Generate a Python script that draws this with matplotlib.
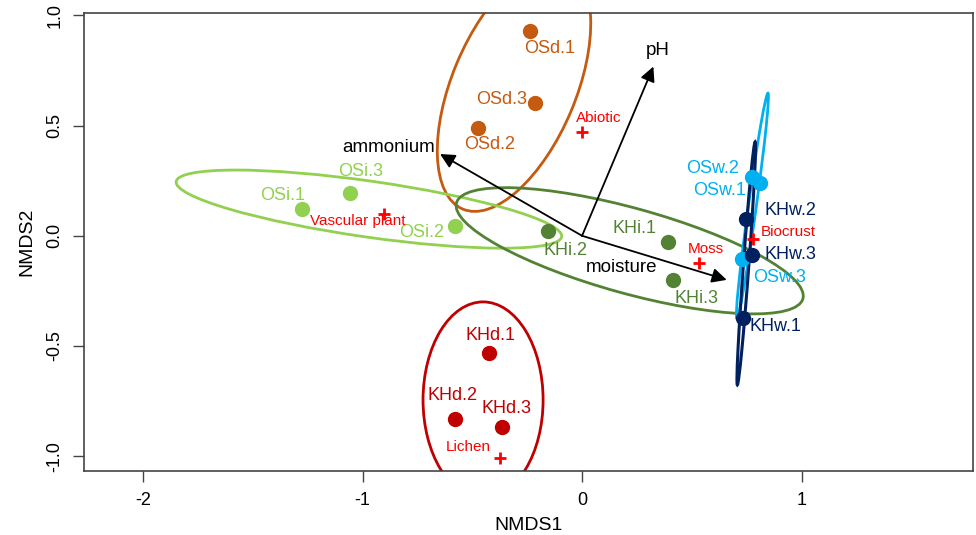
import numpy as np
import matplotlib
matplotlib.use("Agg")
import matplotlib.pyplot as plt
from matplotlib.patches import Ellipse

plt.rcParams['font.family'] = ['Liberation Sans', 'DejaVu Sans']

# ---- sample scores (NMDS1, NMDS2) ----
sites = ["OSd.1", "OSd.2", "OSd.3", "OSi.1", "OSi.2", "OSi.3",
         "KHi.1", "KHi.2", "KHi.3", "OSw.1", "OSw.2", "OSw.3",
         "KHw.1", "KHw.2", "KHw.3", "KHd.1", "KHd.2", "KHd.3"]
site_x = [-0.237, -0.475, -0.214, -1.276, -0.579, -1.057,
          0.390, -0.156, 0.416, 0.811, 0.773, 0.727,
          0.735, 0.747, 0.773, -0.422, -0.577, -0.363]
site_y = [0.928, 0.491, 0.604, 0.123, 0.046, 0.194,
          -0.027, 0.022, -0.200, 0.241, 0.265, -0.105,
          -0.375, 0.076, -0.087, -0.533, -0.832, -0.869]
site_group = ["OSd", "OSd", "OSd", "OSi", "OSi", "OSi",
              "KHi", "KHi", "KHi", "OSw", "OSw", "OSw",
              "KHw", "KHw", "KHw", "KHd", "KHd", "KHd"]
label_x = [-0.149, -0.419, -0.366, -1.362, -0.729, -1.007,
           0.241, -0.077, 0.523, 0.626, 0.595, 0.899,
           0.879, 0.951, 0.948, -0.415, -0.589, -0.346]
label_y = [0.851, 0.415, 0.620, 0.185, 0.017, 0.294,
           0.034, -0.068, -0.284, 0.205, 0.306, -0.188,
           -0.413, 0.117, -0.084, -0.453, -0.723, -0.783]

# ---- group colours and ellipses ----
groups = ["OSd", "OSi", "KHi", "KHd", "OSw", "KHw"]
group_colors = ["#C55A11", "#92D050", "#548235", "#C00000", "#00B0F0", "#002060"]
ell_cx = [-0.310, -0.971, 0.217, -0.451, 0.776, 0.748]
ell_cy = [0.675, 0.121, -0.068, -0.745, 0.136, -0.125]
ell_w = [1.202, 1.774, 1.637, 0.547, 1.032, 1.106]
ell_h = [0.564, 0.254, 0.387, 0.890, 0.036, 0.025]
ell_angle = [67.1, -8.1, -15.4, 0.0, 82.1, 85.8]

# ---- vegetation-type centroids ----
veg = ["Abiotic", "Vascular plant", "Moss", "Biocrust", "Lichen"]
veg_x = [0.000, -0.902, 0.532, 0.778, -0.374]
veg_y = [0.473, 0.099, -0.122, -0.016, -1.010]
veg_lx = [0.074, -1.020, 0.565, 0.940, -0.518]
veg_ly = [0.533, 0.067, -0.061, 0.016, -0.957]

# ---- environmental vectors ----
env = ["pH", "ammonium", "moisture"]
env_x = [0.325, -0.647, 0.659]
env_y = [0.768, 0.371, -0.200]
env_lx = [0.346, -0.880, 0.180]
env_ly = [0.843, 0.402, -0.142]

fig = plt.figure(figsize=(9.76, 5.35), dpi=100)
ax = fig.add_axes([0.0861, 0.1202, 0.9108, 0.8555])
ax.set_xlim(-2.269, 1.781)
ax.set_ylim(-1.066, 1.011)

cmap = dict(zip(groups, group_colors))

for g, c, cx, cy, w, h, a in zip(groups, group_colors, ell_cx, ell_cy, ell_w, ell_h, ell_angle):
    lw = 2.0 if g not in ("KHw",) else 2.2
    e = Ellipse((cx, cy), w, h, angle=a, fill=False, edgecolor=c, lw=lw, zorder=2)
    ax.add_patch(e)

for s, x, y, g, lx, ly in zip(sites, site_x, site_y, site_group, label_x, label_y):
    ax.plot(x, y, 'o', color=cmap[g], ms=10, mec=cmap[g], zorder=3)
    ax.text(lx, ly, s, color=cmap[g], fontsize=13, ha='center', va='center', zorder=4)

# arrows
for n, x, y, lx, ly in zip(env, env_x, env_y, env_lx, env_ly):
    ax.annotate("", xy=(x, y), xytext=(0, 0),
                arrowprops=dict(arrowstyle='-|>', color='black', lw=1.3,
                                mutation_scale=22, shrinkA=0, shrinkB=0),
                zorder=5)
    ax.text(lx, ly, n, color='black', fontsize=13.5, ha='center', va='center', zorder=6)

for n, x, y, lx, ly in zip(veg, veg_x, veg_y, veg_lx, veg_ly):
    ax.plot(x, y, '+', color='#FF0000', ms=8, mew=2, zorder=6)
    ax.text(lx, ly, n, color='#FF0000', fontsize=11, ha='center', va='center', zorder=6)

ax.set_xticks([-2, -1, 0, 1])
ax.set_xticklabels(["-2", "-1", "0", "1"])
ax.set_yticks([-1.0, -0.5, 0.0, 0.5, 1.0])
ax.set_yticklabels(["-1.0", "-0.5", "0.0", "0.5", "1.0"], rotation=90, va='center')
ax.tick_params(axis='both', direction='out', length=8, width=1, color='#444444',
               labelsize=13, pad=7)
for sp in ax.spines.values():
    sp.set_color('#444444')
    sp.set_linewidth(1.2)
ax.set_xlabel("NMDS1", fontsize=14, labelpad=6)
ax.set_ylabel("NMDS2", fontsize=14, labelpad=8)

fig.savefig("out.png", dpi=100)
